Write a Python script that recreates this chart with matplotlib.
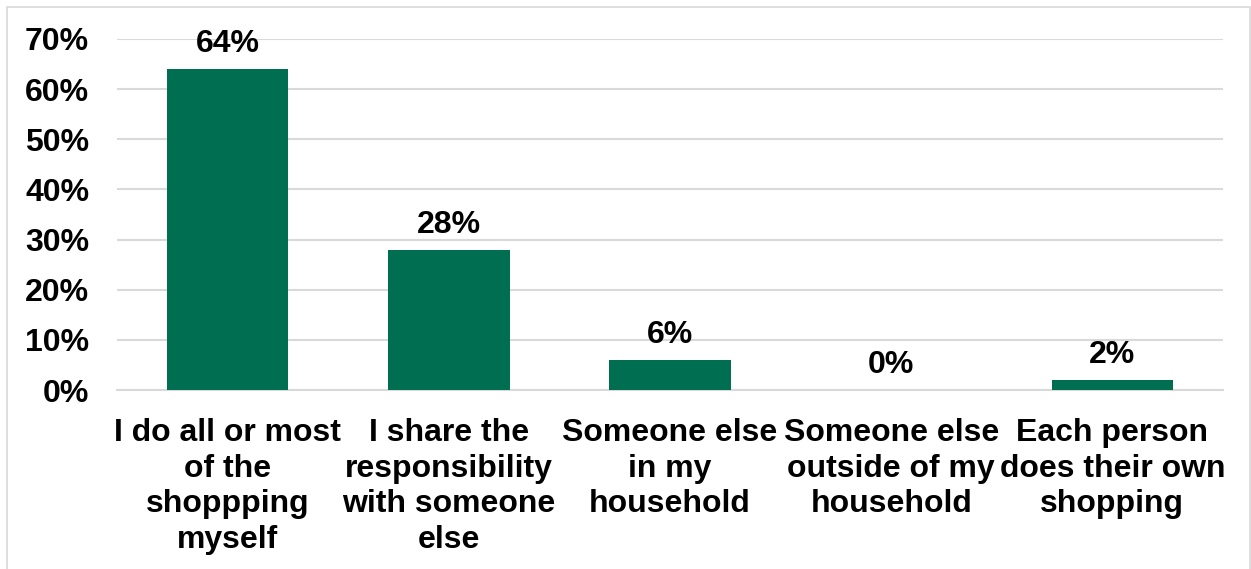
import numpy as np
import matplotlib.pyplot as plt
from matplotlib.patches import Rectangle

categories = ["I do all or most\nof the\nshoppping\nmyself",
              "I share the\nresponsibility\nwith someone\nelse",
              "Someone else\nin my\nhousehold",
              "Someone else\noutside of my\nhousehold",
              "Each person\ndoes their own\nshopping"]
values = [0.64, 0.28, 0.06, 0.00, 0.02]
yticks = [0, 0.1, 0.2, 0.3, 0.4, 0.5, 0.6, 0.7]

plt.rcParams['font.family'] = ['Liberation Sans', 'DejaVu Sans']
plt.rcParams['font.weight'] = 'bold'

fig = plt.figure(figsize=(12.51, 5.69), dpi=100)
ax = fig.add_axes([117 / 1251, 1 - 390 / 569, (1223 - 117) / 1251, (390 - 39) / 569])

x = np.arange(len(values))
bars = ax.bar(x, values, width=0.55, color='#006f51', zorder=3)

for xi, v in zip(x, values):
    ax.annotate('%d%%' % round(v * 100), (xi, v), xytext=(0, 7), textcoords='offset points',
                ha='center', va='bottom', fontsize=23, fontweight='bold')

ax.set_xlim(-0.5, len(values) - 0.5)
ax.set_ylim(0, 0.7)
ax.set_yticks(yticks)
ax.set_yticklabels(['%d%%' % round(t * 100) for t in yticks], fontsize=23, fontweight='bold')
ax.set_xticks(x)
ax.set_xticklabels(categories, fontsize=23, fontweight='bold', linespacing=1.25)
ax.tick_params(axis='both', length=0)
ax.tick_params(axis='x', pad=20)
ax.tick_params(axis='y', pad=20)
ax.grid(axis='y', color='#d9d9d9', linewidth=1.5, zorder=0)
for side in ['top', 'right', 'left']:
    ax.spines[side].set_visible(False)
ax.spines['bottom'].set_color('#d9d9d9')
ax.spines['bottom'].set_linewidth(1.5)

# light chart border
fig.patches.append(Rectangle((7 / 1251, -0.01), 1243 / 1251, 1 - 7 / 569 + 0.01,
                             transform=fig.transFigure, fill=False,
                             edgecolor='#d9d9d9', linewidth=1.2))

fig.savefig('out.png', dpi=100)
